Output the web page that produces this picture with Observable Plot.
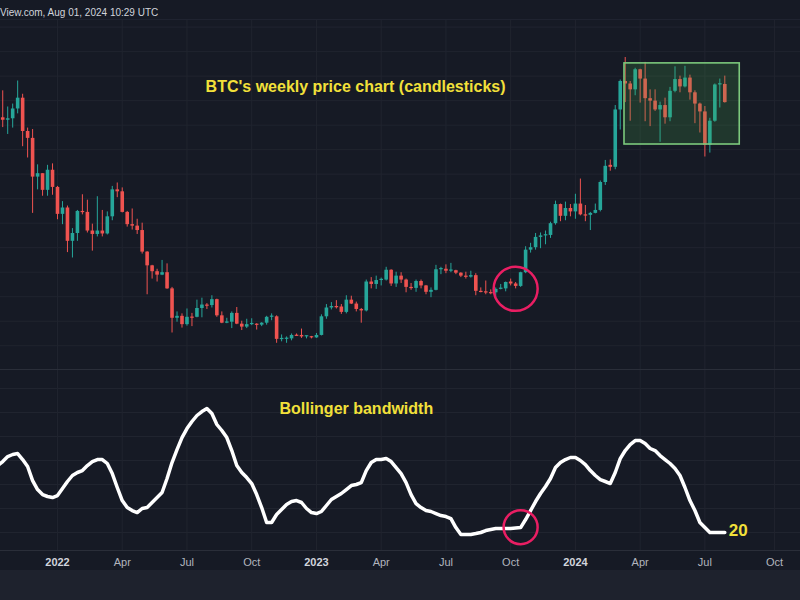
<!DOCTYPE html>
<html>
<head>
<meta charset="utf-8">
<script src="https://cdn.jsdelivr.net/npm/d3@7"></script>
<script src="https://cdn.jsdelivr.net/npm/@observablehq/plot@0.6"></script>
<style>
  html, body { margin: 0; padding: 0; background: #161a25; }
  #wrap { width: 800px; height: 600px; overflow: hidden; background: #161a25; font-family: "Liberation Sans", Arial, sans-serif; }
  #hdr { height: 20px; position: relative; color: #d1d4dc; font-size: 10px; box-sizing: border-box; border-bottom: 1px solid #1f2330; }
  #hdr span { position: absolute; left: 0; top: 7px; white-space: nowrap; }
  #sep { height: 1px; background: #2a2e39; }
  #foot { height: 30px; background: #1e222d; }
  svg { display: block; }
</style>
</head>
<body>
<div id="wrap">
  <div id="hdr"><span>View.com, Aug 01, 2024 10:29 UTC</span></div>
  <div id="price"></div>
  <div id="sep"></div>
  <div id="bw"></div>
  <div id="foot"></div>
</div>
<script>
// ---------- DATA (weekly BTC candles, thousands of USD), first week 2021-10-11 ----------
const firstWeek = "2021-10-11";
const opens = [
  54.9, 61.5, 61.0, 61.3, 63.3, 65.5, 58.7, 57.3, 49.4, 50.1,
  46.7, 50.8, 47.3, 41.8, 43.1, 36.3, 37.9, 42.4, 42.2, 38.4,
  37.7, 38.4, 37.8, 41.3, 46.8, 46.4, 42.2, 39.7, 39.4, 38.5,
  34.1, 31.3, 30.1, 29.4, 29.9, 26.6, 20.6, 21.0, 19.3, 20.85,
  20.8, 22.6, 23.3, 23.2, 24.4, 21.1, 19.6, 19.8, 21.6, 19.4,
  18.8, 19.3, 19.4, 19.2, 19.6, 20.8, 20.9, 16.25, 16.3, 16.4,
  17.15, 17.1, 16.8, 16.85, 16.6, 17.1, 20.9, 22.7, 23.0, 22.9,
  21.8, 24.3, 23.5, 22.4, 22.1, 28.0, 27.5, 28.3, 28.4, 30.4,
  27.6, 29.2, 28.4, 26.9, 26.7, 28.1, 27.2, 25.9, 26.3, 30.5,
  30.6, 30.2, 30.3, 29.8, 29.2, 29.0, 29.3, 26.1, 26.0, 25.85,
  25.8, 26.5, 26.6, 28.0, 27.6, 27.1, 29.9, 34.5, 35.0, 37.1,
  37.4, 37.5, 39.9, 43.8, 41.4, 43.0, 42.3, 43.9, 41.7, 41.6,
  42.0, 42.6, 48.3, 51.8, 51.4, 63.1, 68.9, 68.4, 67.2, 71.3,
  69.4, 65.4, 64.9, 63.1, 64.0, 61.5, 66.9, 69.3, 67.8, 69.6,
  66.6, 64.3, 62.7, 55.9, 60.8, 68.2, 68.3
];
const highs = [
  62.9, 67.0, 63.7, 64.3, 69.0, 66.3, 59.4, 59.1, 51.9, 50.1,
  51.8, 52.1, 47.5, 44.4, 43.5, 38.9, 42.6, 45.8, 44.7, 39.8,
  45.4, 42.6, 42.3, 47.5, 48.2, 47.2, 42.4, 42.9, 40.8, 40.0,
  34.2, 31.4, 30.6, 32.4, 31.7, 26.9, 21.9, 21.5, 22.5, 21.6,
  24.3, 24.7, 23.6, 25.2, 24.5, 21.9, 20.6, 21.9, 22.8, 20.0,
  20.4, 20.5, 19.5, 19.7, 21.0, 21.5, 21.1, 17.2, 16.8, 17.4,
  17.4, 18.4, 17.0, 16.9, 17.5, 21.3, 23.4, 23.8, 24.2, 23.4,
  25.2, 25.1, 23.9, 22.6, 28.4, 28.9, 29.2, 28.8, 31.0, 30.5,
  30.0, 29.9, 28.6, 27.7, 28.4, 28.4, 27.3, 26.8, 31.4, 31.0,
  31.5, 31.8, 30.4, 29.9, 30.0, 30.2, 29.7, 26.8, 28.2, 26.4,
  26.8, 27.5, 28.0, 28.6, 27.9, 30.0, 35.2, 35.9, 37.9, 38.0,
  38.4, 40.2, 44.5, 43.9, 44.3, 43.8, 45.9, 49.0, 43.6, 42.2,
  43.9, 48.6, 52.8, 52.9, 64.0, 69.2, 73.8, 68.9, 71.6, 71.4,
  72.8, 67.2, 67.2, 64.7, 65.5, 67.7, 71.9, 70.0, 72.0, 70.2,
  67.0, 64.5, 63.8, 61.4, 68.4, 69.4, 70.0
];
const lows = [
  53.9, 59.5, 58.1, 59.4, 62.3, 55.6, 53.3, 42.0, 46.8, 45.5,
  45.5, 45.7, 40.7, 39.7, 34.0, 32.9, 36.3, 41.7, 38.0, 34.3,
  37.2, 37.2, 37.6, 40.5, 45.2, 42.1, 39.2, 38.6, 37.7, 33.7,
  25.4, 28.6, 28.0, 29.3, 26.5, 17.6, 19.8, 18.6, 19.0, 18.9,
  20.7, 20.7, 22.4, 22.7, 20.8, 19.5, 19.5, 18.5, 19.3, 18.1,
  18.5, 19.1, 18.2, 18.9, 19.2, 20.1, 15.5, 15.8, 15.5, 16.0,
  16.9, 16.5, 16.4, 16.4, 16.5, 17.0, 20.4, 22.3, 22.5, 21.4,
  21.5, 23.4, 21.9, 19.6, 21.9, 26.6, 26.5, 27.2, 28.2, 27.1,
  26.9, 27.7, 25.8, 26.3, 25.9, 26.6, 25.4, 24.8, 26.2, 29.5,
  29.7, 29.9, 29.5, 28.9, 28.6, 28.8, 25.2, 25.8, 25.4, 25.4,
  24.9, 26.4, 26.0, 27.2, 26.6, 26.9, 29.7, 33.9, 34.5, 34.8,
  35.6, 36.9, 39.6, 40.3, 40.5, 41.3, 40.8, 41.5, 40.3, 38.5,
  41.9, 42.3, 47.7, 50.6, 50.9, 59.0, 64.6, 60.8, 66.0, 64.5,
  60.7, 59.7, 62.8, 56.5, 60.2, 60.7, 66.6, 66.6, 67.6, 65.1,
  60.3, 58.4, 53.5, 54.3, 60.6, 63.5, 64.5
];
const closes = [
  61.5, 61.0, 61.3, 63.3, 65.5, 58.7, 57.3, 49.4, 50.1, 46.7,
  50.8, 47.3, 41.8, 43.1, 36.3, 37.9, 42.4, 42.2, 38.4, 37.7,
  38.4, 37.8, 41.3, 46.8, 46.4, 42.2, 39.7, 39.4, 38.5, 34.1,
  31.3, 30.1, 29.4, 29.9, 26.6, 20.6, 21.0, 19.3, 20.8, 20.8,
  22.6, 23.3, 23.2, 24.4, 21.1, 19.6, 19.8, 21.6, 19.4, 18.8,
  19.3, 19.4, 19.2, 19.6, 20.8, 20.9, 16.3, 16.3, 16.4, 17.1,
  17.1, 16.8, 16.85, 16.6, 17.1, 20.9, 22.7, 23.0, 22.9, 21.8,
  24.3, 23.5, 22.4, 22.1, 28.0, 27.5, 28.3, 28.4, 30.4, 27.6,
  29.2, 28.4, 26.9, 26.7, 28.1, 27.2, 25.9, 26.3, 30.5, 30.6,
  30.2, 30.3, 29.8, 29.2, 29.0, 29.3, 26.1, 26.0, 25.8, 25.8,
  26.5, 26.6, 27.9, 27.6, 27.1, 29.9, 34.5, 35.0, 37.1, 37.4,
  37.5, 39.9, 43.8, 41.4, 43.0, 42.3, 43.9, 41.7, 41.6, 42.0,
  42.6, 48.3, 51.6, 51.4, 63.1, 68.9, 68.4, 67.2, 71.3, 69.4,
  65.4, 64.9, 63.1, 64.0, 61.5, 66.9, 69.3, 67.8, 69.6, 66.6,
  64.3, 62.7, 55.9, 60.8, 68.2, 68.3, 64.6
];
// Bollinger bandwidth (20), one value per week
const bandwidth = [
  75.8, 79.1, 83.3, 85.0, 85.8, 80.8, 75.0, 63.3, 55.8, 51.6,
  50.0, 49.1, 50.8, 56.6, 62.5, 67.5, 70.0, 71.6, 75.8, 79.1,
  80.8, 80.8, 77.5, 69.1, 57.5, 46.6, 40.8, 38.3, 36.6, 40.0,
  40.8, 45.0, 49.1, 53.3, 65.0, 78.3, 89.1, 99.1, 106.6, 112.5,
  117.5, 120.8, 123.3, 119.1, 110.0, 105.0, 99.1, 88.3, 75.8, 70.0,
  65.8, 60.8, 51.6, 40.8, 28.3, 28.3, 35.0, 39.1, 43.3, 45.8,
  46.6, 45.0, 40.0, 36.6, 35.8, 37.5, 42.5, 47.5, 50.0, 52.5,
  55.8, 59.1, 60.0, 61.6, 71.6, 78.3, 80.8, 80.8, 81.6, 79.1,
  74.1, 69.1, 61.6, 51.6, 44.1, 40.8, 38.3, 37.5, 35.8, 34.1,
  33.3, 31.6, 24.1, 18.3, 18.3, 18.3, 19.1, 20.0, 21.6, 22.5,
  23.3, 23.3, 23.3, 23.3, 23.7, 24.1, 30.8, 38.3, 45.8, 52.5,
  58.3, 65.0, 74.1, 78.3, 80.8, 82.5, 82.5, 80.0, 76.6, 71.6,
  67.5, 64.1, 62.5, 60.8, 70.0, 81.6, 88.3, 93.3, 96.6, 96.6,
  94.1, 90.0, 88.3, 84.1, 80.8, 77.5, 73.3, 67.5, 57.5, 46.6,
  38.3, 28.3, 24.1, 20.0, 20.0, 20.0, 20.0
];
// Axis ticks
const yearTicks = ["2022-01-03", "2023-01-02", "2024-01-01"];
const monthTicks = ["2022-04-04", "2022-07-04", "2022-10-03", "2023-04-03", "2023-07-03", "2023-10-02", "2024-04-01", "2024-07-01", "2024-10-07"];
const xDomain = ["2021-10-14T21:07Z", "2024-11-12T09:36Z"];
const priceGridStep = 5000;
const bwGridStep = 20;
// Annotations
const titles = [{date: "2023-02-26", value: 67900, text: "BTC's weekly price chart (candlesticks)"}];
const bwTitles = [{date: "2023-02-27", value: 123.3, text: "Bollinger bandwidth"}];
const priceCircle = [{date: "2023-10-09", value: 26600}];
const bwCircle = [{date: "2023-10-16", value: 24.4}];
const rangeBox = [{x1: "2024-03-10", x2: "2024-08-19", y1: 56050, y2: 72600}];

// ---------- BUILD ----------
const D = s => new Date(s);
const start = D(firstWeek);
const candles = opens.map((o, k) => ({
  date: d3.utcDay.offset(start, 7 * k),
  open: o * 1000, high: highs[k] * 1000, low: lows[k] * 1000, close: closes[k] * 1000
}));
const bwData = bandwidth.map((v, k) => ({date: d3.utcDay.offset(start, 7 * k), value: v}));
const allTicks = [...yearTicks, ...monthTicks].map(D);
const priceGrid = d3.range(15000, 80001, priceGridStep);
const bwGrid = d3.range(20, 141, bwGridStep);
const UP = "#26a69a", DOWN = "#ef5350", GRID = "#20242f", YELLOW = "#f2e03a", PINK = "#e91e63";
const col = d => d.close >= d.open ? UP : DOWN;
const xScale = {type: "utc", domain: xDomain.map(D), axis: null, label: null};
const font = "Liberation Sans, Arial, sans-serif";

const price = Plot.plot({
  width: 800, height: 349, margin: 0,
  style: {background: "transparent", fontFamily: font},
  x: xScale,
  y: {domain: [10152, 81348], axis: null},
  color: {type: "identity"},
  marks: [
    Plot.ruleY(priceGrid, {stroke: GRID}),
    Plot.ruleX(allTicks, {stroke: GRID}),
    Plot.ruleX(candles, {x: "date", y1: "low", y2: "high", stroke: col, strokeWidth: 1}),
    Plot.ruleX(candles, {
      x: "date", y1: "open",
      y2: d => Math.abs(d.close - d.open) < 250 ? d.open + (d.close >= d.open ? 250 : -250) : d.close,
      stroke: col, strokeWidth: 3.6
    }),
    Plot.rect(rangeBox.map(b => ({...b, x1: D(b.x1), x2: D(b.x2)})), {
      x1: "x1", x2: "x2", y1: "y1", y2: "y2",
      fill: "#4caf50", fillOpacity: 0.2, stroke: "#7cc97c", strokeWidth: 1.6
    }),
    Plot.dot(priceCircle.map(c => ({...c, date: D(c.date)})), {x: "date", y: "value", r: 22, stroke: PINK, strokeWidth: 2.5, fill: "none"}),
    Plot.text(titles.map(t => ({...t, date: D(t.date)})), {x: "date", y: "value", text: "text", fill: YELLOW, fontSize: 16, fontWeight: "bold", fontFamily: font})
  ]
});
document.getElementById("price").appendChild(price);

const last = bwData[bwData.length - 1];
const bw = Plot.plot({
  width: 800, height: 200, marginTop: 0, marginBottom: 20, marginLeft: 0, marginRight: 0,
  style: {background: "transparent", fontFamily: font, color: "#b2b5be"},
  x: xScale,
  y: {domain: [5, 155], axis: null},
  marks: [
    Plot.ruleY(bwGrid, {stroke: GRID}),
    Plot.ruleX(allTicks, {stroke: GRID}),
    Plot.frame({anchor: "bottom", stroke: "#2a2e39"}),
    Plot.line(bwData, {x: "date", y: "value", stroke: "#ffffff", strokeWidth: 3.5, strokeLinejoin: "round", strokeLinecap: "round"}),
    Plot.dot(bwCircle.map(c => ({...c, date: D(c.date)})), {x: "date", y: "value", r: 17, stroke: PINK, strokeWidth: 2.5, fill: "none"}),
    Plot.text(bwTitles.map(t => ({...t, date: D(t.date)})), {x: "date", y: "value", text: "text", fill: YELLOW, fontSize: 16, fontWeight: "bold", fontFamily: font}),
    Plot.text([last], {x: "date", y: "value", text: d => String(Math.round(d.value)), textAnchor: "start", dx: 4, dy: -2, fill: YELLOW, fontSize: 17, fontWeight: "bold", fontFamily: font}),
    Plot.axisX({ticks: monthTicks.map(D), tickFormat: "%b", tickSize: 0, tickPadding: 8, anchor: "bottom", label: null, color: "#b2b5be", fontSize: 11}),
    Plot.axisX({ticks: yearTicks.map(D), tickFormat: "%Y", tickSize: 0, tickPadding: 8, anchor: "bottom", label: null, color: "#d1d4dc", fontSize: 11, fontWeight: "bold"})
  ]
});
document.getElementById("bw").appendChild(bw);
</script>
</body>
</html>
